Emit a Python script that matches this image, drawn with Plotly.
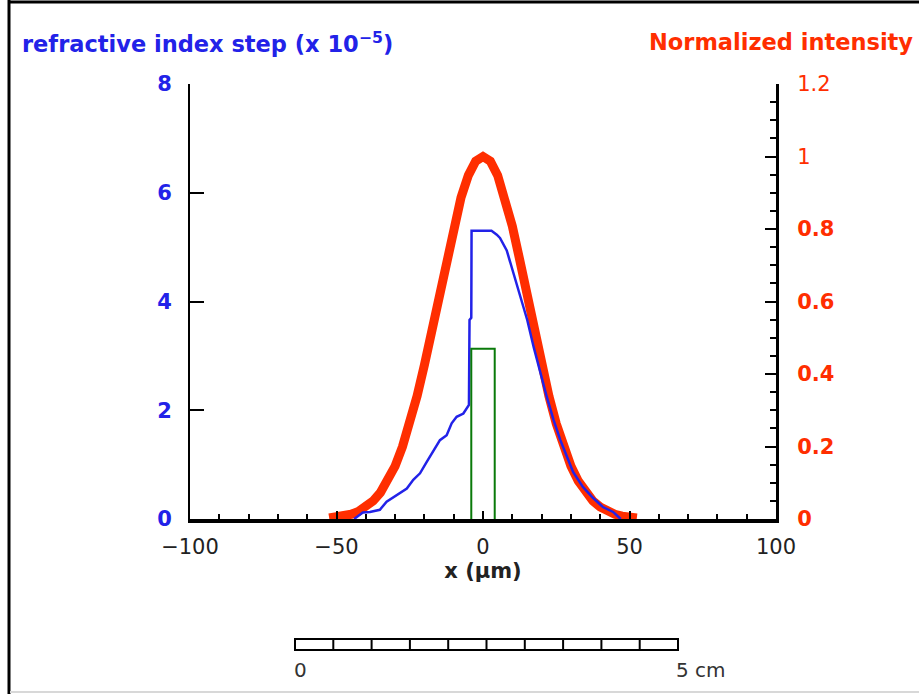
import plotly.graph_objects as go

# ---------------- data ----------------
# Normalized intensity (right axis)
red_x = [-52.5, -50, -47.5, -45, -42.5, -40, -37.5, -35, -32.5, -30, -27.5, -25, -22.5, -20,
         -17.5, -15, -12.5, -10, -7.5, -5, -2.5, 0, 2.5, 5, 7.5, 10, 12.5, 15, 17.5, 20,
         22.5, 25, 27.5, 30, 32.5, 35, 37.5, 40, 42.5, 45, 47.5, 50, 52.5]
red_y = [0.003, 0.005, 0.008, 0.013, 0.021, 0.033, 0.050, 0.073, 0.105, 0.146, 0.199, 0.263,
         0.339, 0.425, 0.520, 0.618, 0.716, 0.808, 0.887, 0.948, 0.987, 1.0, 0.987, 0.948,
         0.887, 0.808, 0.716, 0.618, 0.520, 0.425, 0.339, 0.263, 0.199, 0.146, 0.105, 0.073,
         0.050, 0.033, 0.021, 0.013, 0.008, 0.005, 0.003]

# Refractive index step x 1e-5 (left axis)
blue_x = [-44, -41, -38.6, -35.2, -32.9, -29.5, -26.0, -23.8, -21.5, -19.2, -17.0, -14.7,
          -12.4, -10.7, -9.0, -6.7, -4.8, -4.6, -4.0, -3.9, 2.9, 4.7, 5.8, 8.1, 10.4, 12.8,
          15.1, 17.3, 19.6, 21.8, 24.1, 26.4, 28.7, 30.8, 34.1, 37.5, 40.9, 44.4, 47]
blue_y = [0, 0.12, 0.13, 0.17, 0.32, 0.44, 0.56, 0.72, 0.84, 1.05, 1.24, 1.45,
          1.54, 1.76, 1.88, 1.94, 2.10, 3.66, 3.70, 5.30, 5.30, 5.23, 5.17, 4.94, 4.52, 4.08,
          3.66, 3.16, 2.68, 2.24, 1.82, 1.45, 1.14, 0.86, 0.59, 0.39, 0.22, 0.13, 0]

# Step profile (left axis)
green_x = [-4, -4, 4, 4]
green_y = [0, 3.13, 3.13, 0]

x_ticks = [-100, -50, 0, 50, 100]
x_ticktext = ["\u2212100", "\u221250", "0", "50", "100"]
left_ticks = [0, 2, 4, 6, 8]
right_ticks = [0, 0.2, 0.4, 0.6, 0.8, 1.0, 1.2]
right_ticktext = ["<b>0</b>", "<b>0.2</b>", "<b>0.4</b>", "<b>0.6</b>", "<b>0.8</b>", "1", "1.2"]

# ---------------- styles ----------------
RED = "#ff2e00"
BLUE = "#2222e8"
GREEN = "#0a7a0a"
FONT = "DejaVu Sans"

W, H = 919, 694
L, R, T, B = 190, 143, 84, 175
PW, PH = W - L - R, H - T - B


def px(xp):
    return (xp - L) / PW


def py(yp):
    return (H - B - yp) / PH


fig = go.Figure()
fig.add_trace(go.Scatter(x=red_x, y=red_y, mode="lines", yaxis="y",
                         line=dict(color=RED, width=9), showlegend=False))
fig.add_trace(go.Scatter(x=blue_x, y=blue_y, mode="lines", yaxis="y2",
                         line=dict(color=BLUE, width=2.5), showlegend=False))
fig.add_trace(go.Scatter(x=green_x, y=green_y, mode="lines", yaxis="y2",
                         line=dict(color=GREEN, width=2), showlegend=False))

shapes = []
# scale bar
sb_x0, sb_x1, sb_y0, sb_y1 = px(295), px(678), py(650), py(639)
shapes.append(dict(type="rect", xref="paper", yref="paper", x0=sb_x0, x1=sb_x1,
                   y0=sb_y0, y1=sb_y1, line=dict(color="black", width=2), fillcolor="white"))
for i in range(1, 10):
    xx = sb_x0 + (sb_x1 - sb_x0) * i / 10
    shapes.append(dict(type="line", xref="paper", yref="paper", x0=xx, x1=xx,
                       y0=sb_y0, y1=sb_y1, line=dict(color="black", width=2)))
# frame
shapes.append(dict(type="line", xref="paper", yref="paper", x0=px(9), x1=px(9),
                   y0=py(0), y1=py(694), line=dict(color="black", width=3)))
shapes.append(dict(type="line", xref="paper", yref="paper", x0=px(8), x1=px(919),
                   y0=py(2), y1=py(2), line=dict(color="black", width=3)))
shapes.append(dict(type="line", xref="paper", yref="paper", x0=px(10), x1=px(919),
                   y0=py(692), y1=py(692), line=dict(color="#d8d8d8", width=2)))

annotations = [
    dict(text="refractive index step (x 10<sup>\u22125</sup>)", xref="paper", yref="paper",
         x=px(20), y=py(42), xanchor="left", yanchor="middle", showarrow=False,
         font=dict(family=FONT, size=22.5, color=BLUE, weight="bold")),
    dict(text="Normalized intensity", xref="paper", yref="paper",
         x=px(915), y=py(42), xanchor="right", yanchor="middle", showarrow=False,
         font=dict(family=FONT, size=22.5, color=RED, weight="bold")),
    dict(text="0", xref="paper", yref="paper", x=px(300), y=py(670), xanchor="center",
         yanchor="middle", showarrow=False, font=dict(family=FONT, size=20, color="#333")),
    dict(text="5 cm", xref="paper", yref="paper", x=px(674), y=py(670), xanchor="left",
         yanchor="middle", showarrow=False, font=dict(family=FONT, size=20, color="#333")),
]

fig.update_layout(
    width=W, height=H, autosize=False,
    margin=dict(l=L, r=R, t=T, b=B),
    paper_bgcolor="white", plot_bgcolor="white",
    showlegend=False,
    xaxis=dict(range=[-100, 100], tickvals=x_ticks, ticktext=x_ticktext,
               ticks="inside", ticklen=8, tickwidth=2, tickcolor="black",
               minor=dict(dtick=10, tick0=0, ticks="inside", ticklen=5, tickwidth=1.5,
                          tickcolor="black"),
               showline=True, linewidth=4, linecolor="black", showgrid=False,
               zeroline=False, ticklabelstandoff=6,
               tickfont=dict(family=FONT, size=21, color="#222"),
               title=dict(text="x (\u00b5m)", standoff=2,
                          font=dict(family=FONT, size=21, color="#222", weight="bold"))),
    xaxis2=dict(range=[-100, 100], overlaying="x", side="top", anchor="y",
                showticklabels=False, dtick=50, tick0=0,
                ticks="inside", ticklen=9, tickwidth=2, tickcolor="black",
                minor=dict(dtick=10, tick0=0, ticks="inside", ticklen=5, tickwidth=1.5,
                           tickcolor="black"),
                showline=True, linewidth=2, linecolor="black", showgrid=False,
                zeroline=False),
    yaxis=dict(range=[0, 1.2], side="right", tickvals=right_ticks, ticktext=right_ticktext,
               ticks="inside", ticklen=11, tickwidth=2, tickcolor="black",
               minor=dict(dtick=0.05, tick0=0, ticks="inside", ticklen=6, tickwidth=1.5,
                          tickcolor="black"),
               showline=True, linewidth=3, linecolor="black", showgrid=False,
               zeroline=False, ticklabelstandoff=14,
               tickfont=dict(family=FONT, size=21, color=RED)),
    yaxis2=dict(range=[0, 8], side="left", overlaying="y", anchor="x",
                tickvals=left_ticks,
                ticks="inside", ticklen=14, tickwidth=2, tickcolor="black",
                showline=True, linewidth=2, linecolor="black", showgrid=False,
                zeroline=False, ticklabelstandoff=12,
                tickfont=dict(family=FONT, size=21, color=BLUE, weight="bold")),
    shapes=shapes,
    annotations=annotations,
)

fig.write_html("out.html")
